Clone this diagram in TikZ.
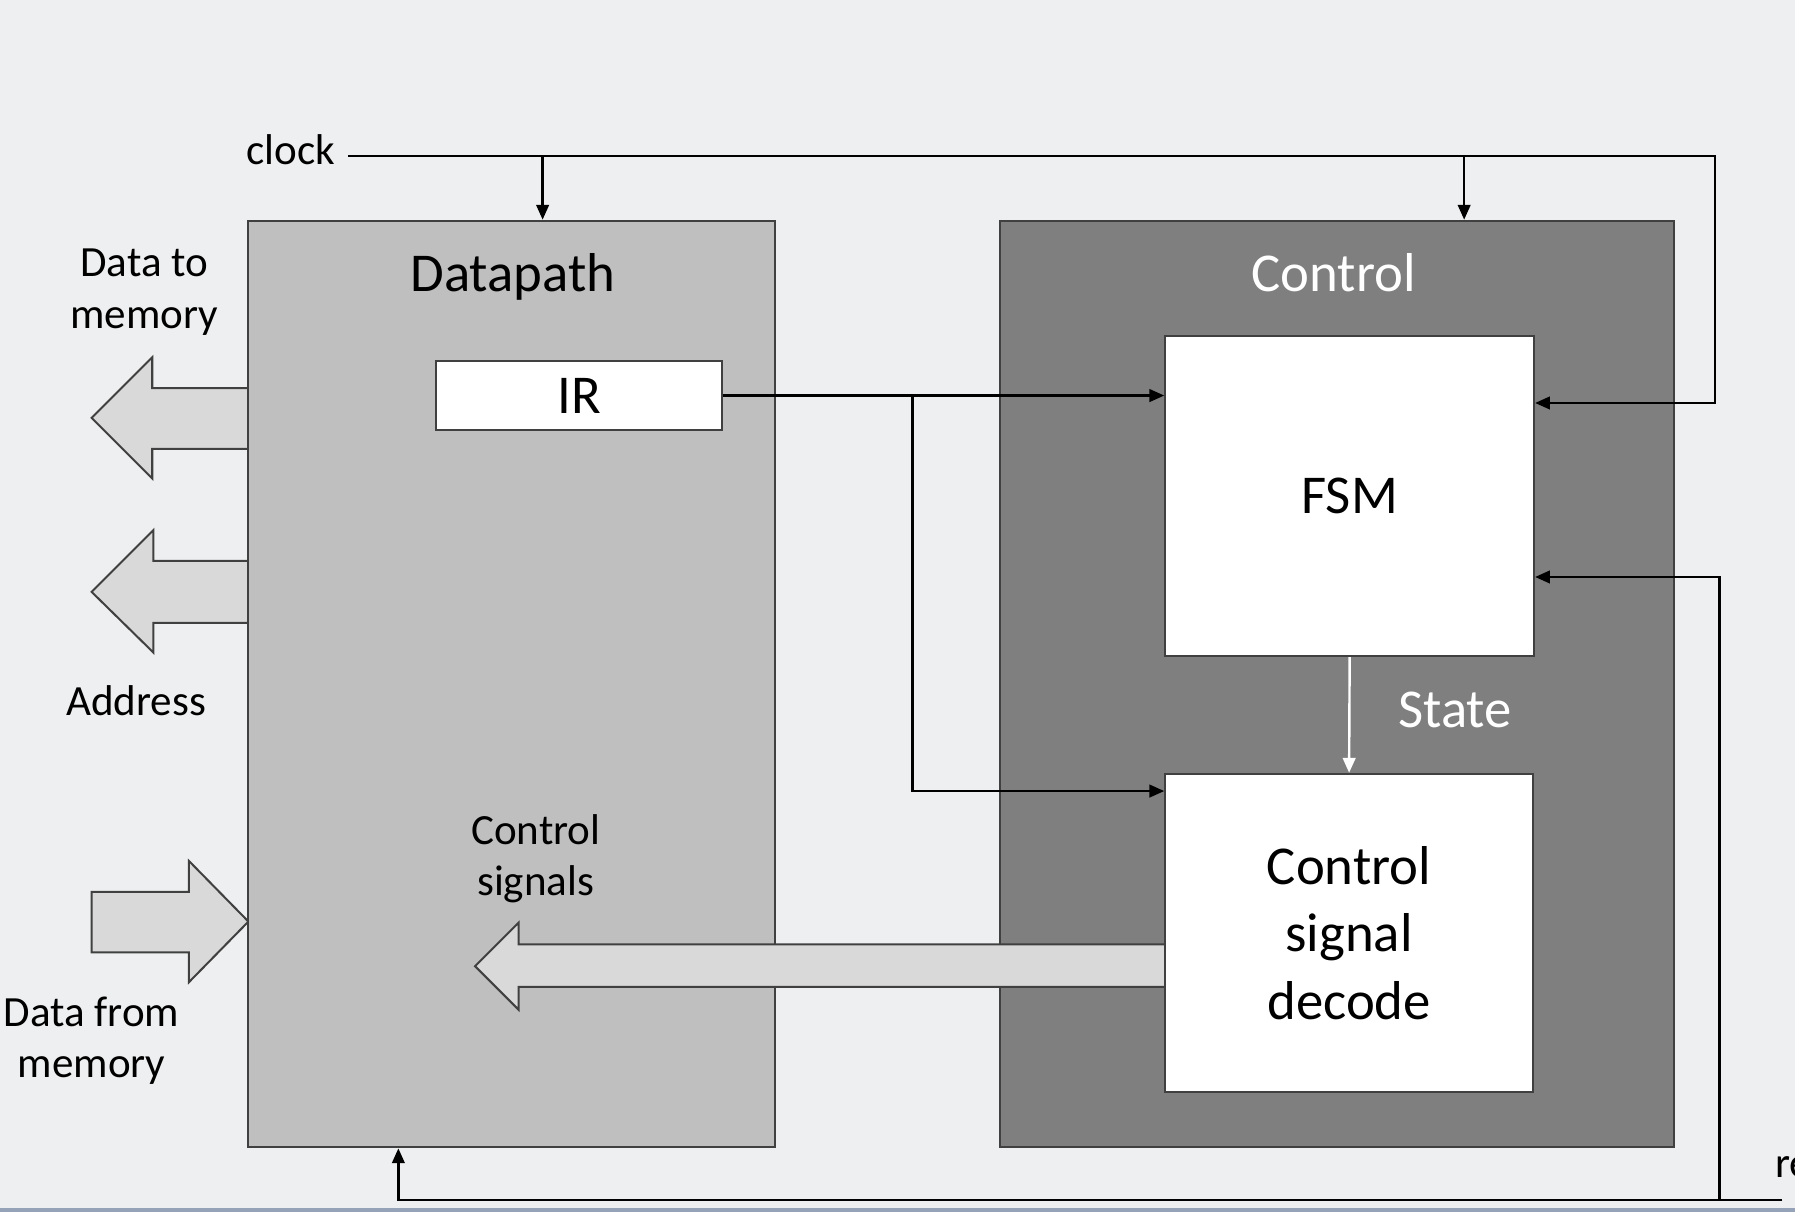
\documentclass[tikz,border=0pt]{standalone}
\usepackage{fontspec}
\setmainfont{Carlito}
\usetikzlibrary{arrows.meta}

\definecolor{bgback}{RGB}{238,239,240}
\definecolor{dpgray}{RGB}{191,191,191}
\definecolor{ctlgray}{RGB}{127,127,127}
\definecolor{busgray}{RGB}{217,217,217}
\definecolor{barblue}{RGB}{150,162,184}

\begin{document}
\begin{tikzpicture}[x=0.01cm, y=-0.01cm, >={Triangle[length=1.3mm,width=1.1mm]}]

\tikzstyle{every node} = [inner sep=0pt, align=center, font=\fontsize{10.7}{12.8}\selectfont]
\tikzstyle{big} = [font=\fontsize{13.6}{16.8}\selectfont]
\tikzstyle{blk} = [rectangle, draw=black!75, line width=0.5pt]
\tikzstyle{bus} = [fill=busgray, draw=black!75, line width=0.5pt]
\tikzstyle{wire} = [line width=0.6pt, ->]

\clip (0,0) rectangle (1568,1059);
\fill[bgback] (0,0) rectangle (1568,1059);
\fill[barblue] (0,1055) rectangle (1568,1059);

% memory buses
\draw[bus] (218,339) -- (133,339) -- (133,312) -- (80,365) -- (133,418) -- (133,392) -- (218,392);
\draw[bus] (219,490) -- (134,490) -- (134,463) -- (80,517) -- (134,570) -- (134,544) -- (219,544);
\draw[bus] (80,779) -- (165,779) -- (165,752) -- (217,805) -- (165,858) -- (165,832) -- (80,832) -- cycle;
\node (dtm) at (126,255) {Data to\\memory};
\node (adr) at (119,612) {Address};
\node (dfm) at (80,909) {Data from\\memory};

% big blocks
\node[blk, fill=dpgray, minimum width=4.6cm, minimum height=8.09cm] (dp) at (447,597.5) {};
\node[blk, fill=ctlgray, minimum width=5.88cm, minimum height=8.09cm] (ctl) at (1168,597.5) {};
\node[big] (dpl) at (448,242) {Datapath};
\node[big, text=white] (ctll) at (1165,238) {Control};

% control signals bus
\draw[bus] (1018,825) -- (453,825) -- (453,806) -- (415,844) -- (453,882) -- (453,862) -- (1018,862);
\node (csl) at (468,750) {Control\\signals};

% inner blocks
\node[blk, fill=white, big, minimum width=2.5cm, minimum height=0.61cm] (ir) at (506,345.5) {IR};
\node[blk, fill=white, big, minimum width=3.22cm, minimum height=2.79cm] (fsm) at (1179,433.5) {FSM};
\node[blk, fill=white, big, minimum width=3.21cm, minimum height=2.78cm] (dec) at (1178.5,815) {Control\\signal\\decode};

% state
\draw[wire, white] (fsm.south) -- (dec.north);
\node[big, text=white] (st) at (1271,620) {State};

% clock
\node (clk) at (254,131) {clock};
\coordinate (c0) at (304,136);
\coordinate (c1) at (1498,136);
\coordinate (c2) at (1498,352);
\coordinate (cd) at (474,136);
\coordinate (cc) at (1279,136);
\draw[wire] (c0) -- (c1) -- (c2) -- (c2 -| fsm.east);
\draw[wire] (cd) -- (cd |- dp.north);
\draw[wire] (cc) -- (cc |- ctl.north);

% instruction
\coordinate (ib) at (797,346);
\coordinate (ic) at (797,691);
\draw[wire] (ir.east) -- (ir.east -| fsm.west);
\draw[wire] (ib) -- (ic) -- (ic -| dec.west);

% reset
\node[anchor=base west] (rst) at (1550,1029) {reset};
\coordinate (r0) at (1557,1048);
\coordinate (r1) at (1502,1048);
\coordinate (r2) at (1502,504);
\coordinate (r3) at (348,1048);
\draw[wire] (r0) -- (r3) -- (r3 |- dp.south);
\draw[wire] (r1) -- (r2) -- (r2 -| fsm.east);

\end{tikzpicture}
\end{document}
